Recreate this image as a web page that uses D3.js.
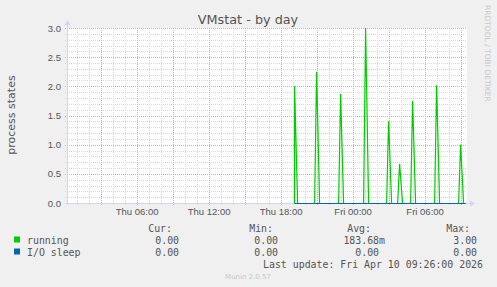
<!doctype html>
<html>
<head>
<meta charset="utf-8">
<script src="https://cdnjs.cloudflare.com/ajax/libs/d3/7.8.5/d3.min.js"></script>
<style>
  body { margin: 0; background: #f0f0f0; }
  svg { display: block; font-family: "DejaVu Sans", sans-serif; }
  .mono { font-family: "DejaVu Sans Mono", monospace; font-size: 9.9px; fill: #555; }
  .tick text { fill: #555; font-size: 9.5px; }
</style>
</head>
<body>
<svg width="497" height="287"></svg>
<script>
// readings from the picture
var seriesNames = ["running", "I/O sleep"];
var seriesColors = ["#00cc00", "#0066b3"];
var dataStart = new Date(2026, 3, 9, 19, 10);
var dataEnd = new Date(2026, 3, 10, 9, 25);
// spikes of "running" (time, value)
var spikeTimes = ["2026-04-09 19:10", "2026-04-09 21:00", "2026-04-09 23:00", "2026-04-10 01:05",
                  "2026-04-10 03:00", "2026-04-10 03:55", "2026-04-10 05:00", "2026-04-10 07:00",
                  "2026-04-10 09:00"];
var spikeValues = [2.0, 2.25, 1.87, 3.0, 1.4, 0.67, 1.75, 2.02, 1.0];
var yTicks = [0, 0.5, 1.0, 1.5, 2.0, 2.5, 3.0];
var legendCur = ["0.00 ", "0.00 "];
var legendMin = ["0.00 ", "0.00 "];
var legendAvg = ["183.68m", "0.00 "];
var legendMax = ["3.00 ", "0.00 "];

var parse = d3.timeParse("%Y-%m-%d %H:%M");
var svg = d3.select("svg");

var pLeft = 67, pTop = 28, pW = 400, pH = 175;
var x = d3.scaleTime()
  .domain([new Date(2026, 3, 9, 0, 12), new Date(2026, 3, 10, 9, 32)])
  .range([pLeft, pLeft + pW]);
var y = d3.scaleLinear().domain([0, 3]).range([pTop + pH, pTop]);

// canvas
svg.append("rect").attr("x", pLeft).attr("y", pTop).attr("width", pW).attr("height", pH).attr("fill", "#fff");

// minor grid
var g = svg.append("g");
x.ticks(d3.timeHour.every(1)).forEach(function (t) {
  g.append("line").attr("x1", Math.round(x(t)) + 0.5).attr("x2", Math.round(x(t)) + 0.5)
    .attr("y1", pTop).attr("y2", pTop + pH + 2)
    .attr("stroke", "#d8d8d8").attr("stroke-dasharray", "1,1");
});
d3.range(1, 30).forEach(function (i) {
  var v = i / 10;
  g.append("line").attr("x1", pLeft - 2).attr("x2", pLeft + pW)
    .attr("y1", Math.round(y(v)) + 0.5).attr("y2", Math.round(y(v)) + 0.5)
    .attr("stroke", "#d8d8d8").attr("stroke-dasharray", "1,1");
});
// major grid
x.ticks(d3.timeHour.every(3)).forEach(function (t) {
  g.append("line").attr("x1", Math.round(x(t)) + 0.5).attr("x2", Math.round(x(t)) + 0.5)
    .attr("y1", pTop).attr("y2", pTop + pH + 3)
    .attr("stroke", "#eea0a0").attr("stroke-dasharray", "1,1");
});
yTicks.forEach(function (v) {
  g.append("line").attr("x1", pLeft - 2).attr("x2", pLeft + pW)
    .attr("y1", Math.round(y(v)) + 0.5).attr("y2", Math.round(y(v)) + 0.5)
    .attr("stroke", "#eea0a0").attr("stroke-dasharray", "1,1");
});

// axes (labels only)
var yAxis = svg.append("g").attr("transform", "translate(" + pLeft + ",0)")
  .call(d3.axisLeft(y).tickValues(yTicks).tickFormat(d3.format(".1f")).tickSize(0).tickPadding(6));
yAxis.select(".domain").remove();
var xAxis = svg.append("g").attr("transform", "translate(0," + (pTop + pH) + ")")
  .call(d3.axisBottom(x).ticks(d3.timeHour.every(6)).tickFormat(d3.timeFormat("%a %H:%M")).tickSize(0).tickPadding(5));
xAxis.select(".domain").remove();
xAxis.selectAll(".tick").filter(function (d) { return x(d) < pLeft + 20; }).remove();

// axis lines with arrows
svg.append("line").attr("x1", pLeft + 0.5).attr("x2", pLeft + 0.5).attr("y1", pTop + pH + 2).attr("y2", pTop - 4)
  .attr("stroke", "#cfd6f8");
svg.append("line").attr("x1", pLeft - 2).attr("x2", pLeft + pW + 4).attr("y1", pTop + pH + 0.5).attr("y2", pTop + pH + 0.5)
  .attr("stroke", "#cfd6f8");
svg.append("path").attr("d", d3.line()([[pLeft - 2.5, pTop - 3], [pLeft + 3.5, pTop - 3], [pLeft + 0.5, pTop - 8]]) + "Z")
  .attr("fill", "#cfd6f8");
svg.append("path").attr("d", d3.line()([[pLeft + pW + 3, pTop + pH - 2.5], [pLeft + pW + 3, pTop + pH + 3.5], [pLeft + pW + 8, pTop + pH + 0.5]]) + "Z")
  .attr("fill", "#cfd6f8");

// running series: zero baseline with spikes, 10 min either side
var running = [[dataStart, 0]];
spikeTimes.forEach(function (s, i) {
  var t = parse(s);
  if (+t > +dataStart) running.push([d3.timeMinute.offset(t, -10), 0]);
  running.push([t, spikeValues[i]]);
  running.push([d3.timeMinute.offset(t, 15), 0]);
});
running.push([dataEnd, 0]);
running.sort(function (a, b) { return a[0] - b[0]; });
var ioSleep = [[dataStart, 0], [dataEnd, 0]];

var line = d3.line().x(function (d) { return x(d[0]); }).y(function (d) { return y(d[1]) + (d[1] === 0 ? 0.5 : 0); });
svg.append("path").datum(running).attr("d", line).attr("fill", "none")
  .attr("stroke", seriesColors[0]).attr("stroke-width", 1.2);
svg.append("path").datum(ioSleep).attr("d", line).attr("fill", "none")
  .attr("stroke", seriesColors[1]).attr("stroke-width", 1);

// titles
svg.append("text").attr("x", 248).attr("y", 24).attr("text-anchor", "middle")
  .attr("font-size", "12.8px").attr("fill", "#555").text("VMstat - by day");
svg.append("text").attr("transform", "translate(15,115) rotate(-90)").attr("text-anchor", "middle")
  .attr("font-size", "11px").attr("fill", "#555").text("process states");
svg.append("text").attr("transform", "translate(485,5) rotate(90)").attr("text-anchor", "start")
  .attr("font-size", "7.5px").attr("fill", "#c8c8c8").text("RRDTOOL / TOBI OETIKER");

// legend
var heads = [["Cur:", 172], ["Min:", 273], ["Avg:", 371], ["Max:", 470]];
heads.forEach(function (hd) {
  svg.append("text").attr("class", "mono").attr("x", hd[1]).attr("y", 231.5).attr("text-anchor", "end").text(hd[0]);
});
var cols = [[legendCur, 185], [legendMin, 284], [legendAvg, 385], [legendMax, 483]];
seriesNames.forEach(function (name, i) {
  var yy = 243.5 + i * 12;
  svg.append("rect").attr("x", 14).attr("y", yy - 7).attr("width", 6).attr("height", 6).attr("fill", seriesColors[i]);
  svg.append("text").attr("class", "mono").attr("x", 27).attr("y", yy).text(name);
  cols.forEach(function (c) {
    svg.append("text").attr("class", "mono").attr("x", c[1]).attr("y", yy).attr("text-anchor", "end")
      .attr("xml:space", "preserve").text(c[0][i]);
  });
});
svg.append("text").attr("class", "mono").attr("x", 483).attr("y", 267.5).attr("text-anchor", "end")
  .text("Last update: Fri Apr 10 09:26:00 2026");
svg.append("text").attr("x", 248).attr("y", 279).attr("text-anchor", "middle")
  .attr("font-size", "7px").attr("fill", "#c8c8c8").text("Munin 2.0.57");
</script>
</body>
</html>
